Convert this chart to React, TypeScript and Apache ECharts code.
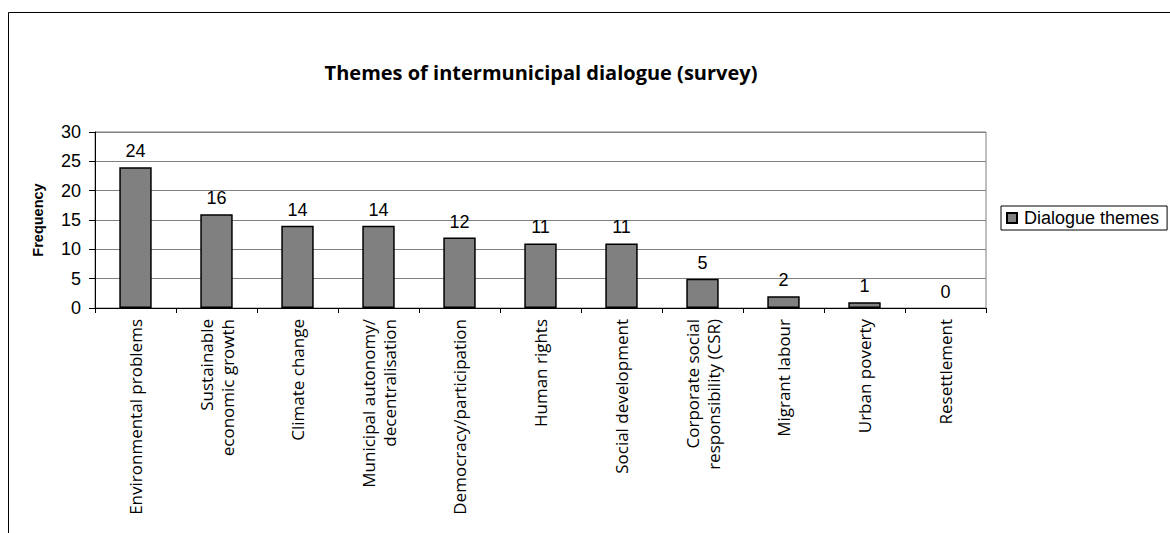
import React, { useEffect, useRef } from "react";
import * as echarts from "echarts";

const categories = [
  "Environmental problems",
  "Sustainable\neconomic growth",
  "Climate change",
  "Municipal autonomy/\ndecentralisation",
  "Democracy/participation",
  "Human rights",
  "Social development",
  "Corporate social\nresponsibility (CSR)",
  "Migrant labour",
  "Urban poverty",
  "Resettlement",
];
const frequencies = [24, 16, 14, 14, 12, 11, 11, 5, 2, 1, 0];
const seriesName = "Dialogue themes";
const titleText = "Themes of intermunicipal dialogue (survey)";
const yAxisName = "Frequency";

export default function App() {
  const ref = useRef<HTMLDivElement>(null);
  useEffect(() => {
    if (!ref.current) return;
    const chart = echarts.init(ref.current, null, { renderer: "svg" });
    chart.setOption({
      animation: false,
      backgroundColor: "#ffffff",
      title: {
        text: titleText,
        left: 536,
        top: 57,
        textAlign: "center",
        textStyle: {
          fontFamily: "Open Sans",
          fontWeight: "bold",
          fontSize: 20,
          color: "#000",
        },
      },
      graphic: [
        {
          type: "rect",
          shape: { x: 8.5, y: 12.5, width: 1300, height: 700 },
          style: { fill: "none", stroke: "#000", lineWidth: 1 },
          silent: true,
        },
      ],
      legend: {
        data: [seriesName],
        left: 1001,
        top: 206,
        orient: "vertical",
        borderColor: "#000",
        borderWidth: 1,
        padding: [3, 8, 3, 5],
        itemWidth: 10,
        itemHeight: 10,
        itemGap: 0,
        icon: "rect",
        textStyle: { fontFamily: "Liberation Sans", fontSize: 18, color: "#000", padding: [0, 0, 0, 2] },
      },
      grid: {
        left: 95,
        right: 184,
        top: 132,
        bottom: 225,
        show: true,
        borderColor: "#808080",
        borderWidth: 1,
        backgroundColor: "transparent",
      },
      xAxis: {
        type: "category",
        data: categories,
        axisLine: { lineStyle: { color: "#000", width: 1 } },
        axisTick: { show: true, length: 5, lineStyle: { color: "#000" } },
        axisLabel: {
          rotate: 90,
          interval: 0,
          margin: 11,
          fontFamily: "Open Sans",
          fontSize: 17,
          lineHeight: 21,
          color: "#000",
        },
      },
      yAxis: {
        type: "value",
        min: 0,
        max: 30,
        interval: 5,
        name: yAxisName,
        nameLocation: "middle",
        nameGap: 50,
        nameTextStyle: {
          fontFamily: "Liberation Sans",
          fontWeight: "bold",
          fontSize: 14.5,
          color: "#000",
        },
        axisLine: { show: true, lineStyle: { color: "#000", width: 1 } },
        axisTick: { show: true, length: 6, lineStyle: { color: "#000" } },
        axisLabel: {
          fontFamily: "Liberation Sans",
          fontSize: 18,
          color: "#000",
          margin: 14,
        },
        splitLine: { show: true, lineStyle: { color: "#808080", width: 1 } },
      },
      series: [
        {
          name: seriesName,
          type: "bar",
          data: frequencies.map((v) =>
            v === 0 ? { value: v, itemStyle: { borderWidth: 0 } } : v
          ),
          barWidth: "40%",
          itemStyle: { color: "#808080", borderColor: "#000", borderWidth: 1.5 },
          label: {
            show: true,
            position: "top",
            distance: 7,
            fontFamily: "Liberation Sans",
            fontSize: 18,
            color: "#000",
          },
        },
      ],
    });
    return () => chart.dispose();
  }, []);
  return (
    <div
      ref={ref}
      style={{ position: "fixed", left: 0, top: 0, width: 1170, height: 533 }}
    />
  );
}
